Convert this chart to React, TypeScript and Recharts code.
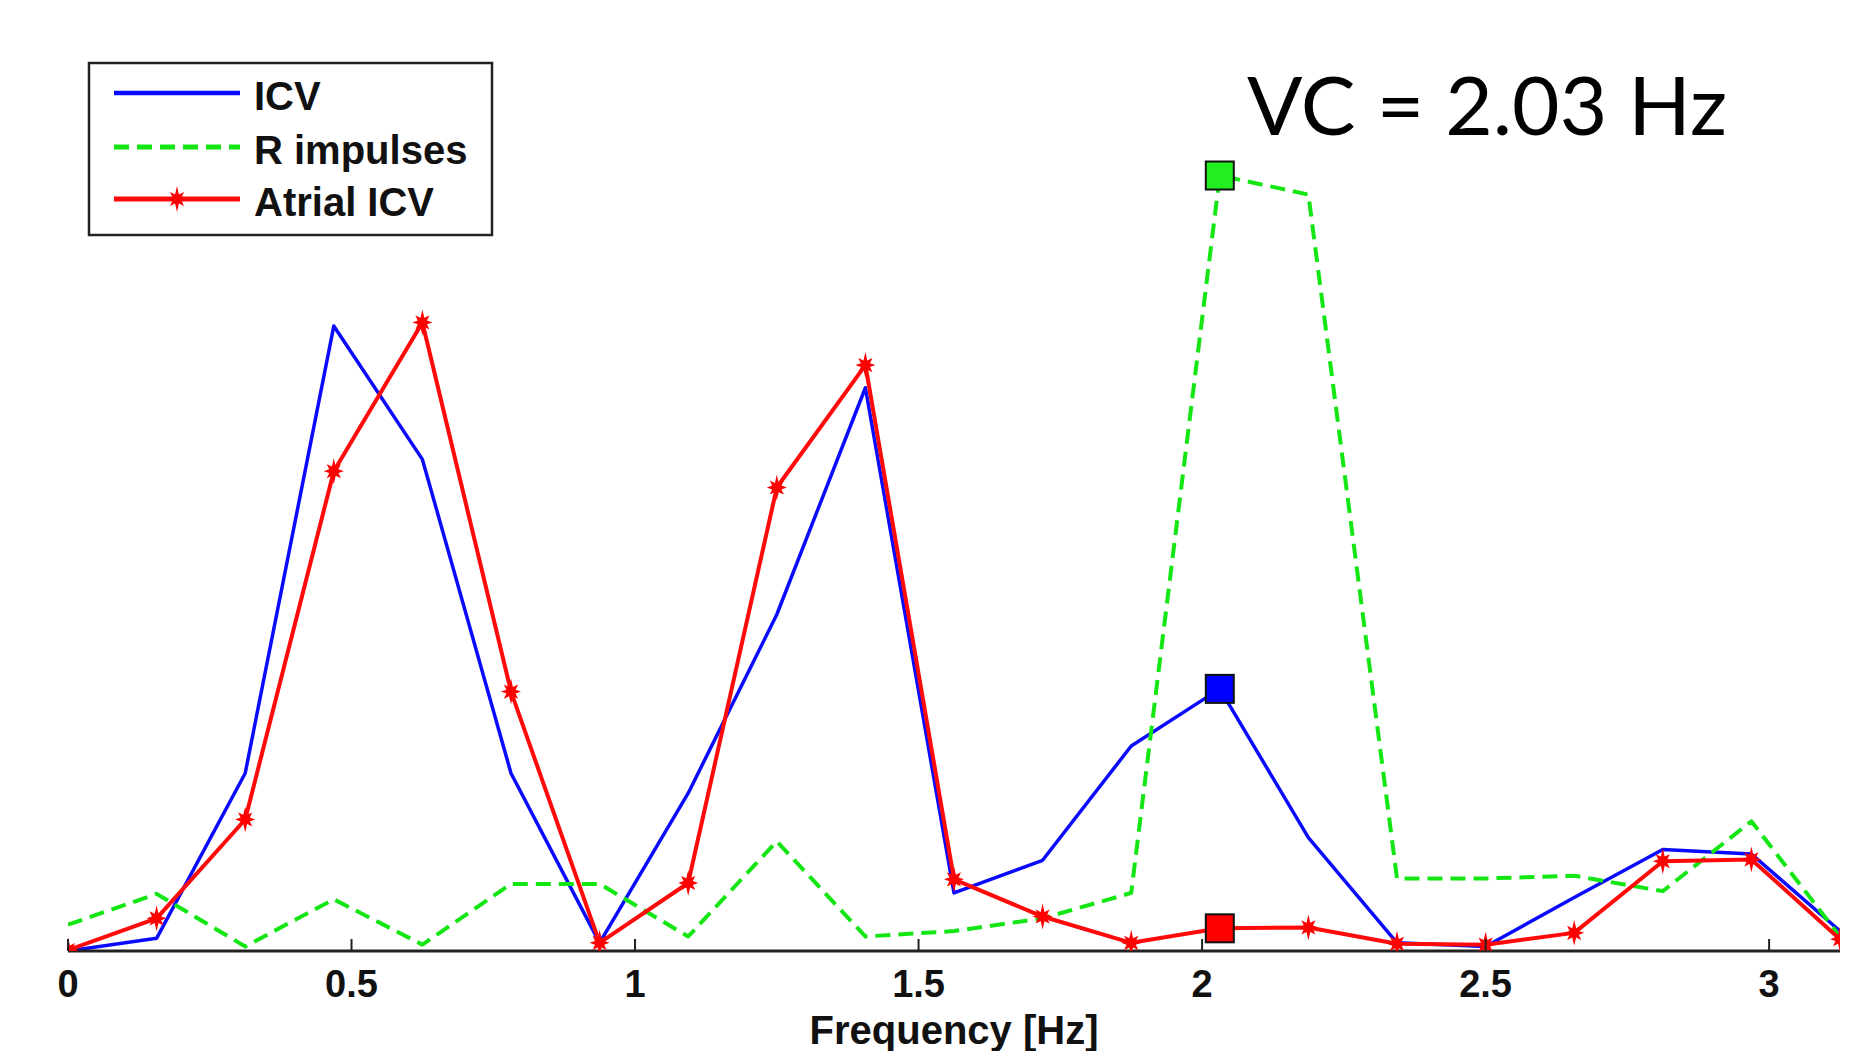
import { LineChart, Line, XAxis, YAxis } from "recharts";

// frequency bins (Hz)
const FREQ_HZ = [
  0, 0.15625, 0.3125, 0.46875, 0.625, 0.78125, 0.9375, 1.09375, 1.25, 1.40625, 1.5625,
  1.71875, 1.875, 2.03125, 2.1875, 2.34375, 2.5, 2.65625, 2.8125, 2.96875, 3.125,
];

// spectra (% of axis height)
const ICV = [
  0, 1.4, 19.6, 68.9, 54.2, 19.6, 0.9, 17.4, 37.1, 62.1, 6.4, 10.0, 22.6, 28.9, 12.5, 0.9, 0.5,
  5.9, 11.2, 10.7, 2.2,
];
const R_IMPULSES = [
  2.9, 6.3, 0.5, 5.7, 0.7, 7.4, 7.4, 1.6, 12.1, 1.6, 2.2, 3.6, 6.4, 85.5, 83.4, 8.0, 8.0, 8.3,
  6.6, 14.3, 1.6,
];
const ATRIAL_ICV = [
  0.1, 3.6, 14.5, 52.9, 69.3, 28.6, 0.9, 7.5, 51.1, 64.6, 7.9, 3.8, 0.9, 2.5, 2.6, 0.8, 0.7,
  2.0, 9.9, 10.1, 1.3,
];

const X_TICKS = [0, 0.5, 1, 1.5, 2, 2.5, 3];

const SERIES = [
  { key: "icv", name: "ICV", color: "#0a0aff", width: 3.5, dash: undefined as string | undefined, star: false, fill: "#0000ff" },
  { key: "r", name: "R impulses", color: "#14e614", width: 4, dash: "15 8", star: false, fill: "#22ee22" },
  { key: "atrial", name: "Atrial ICV", color: "#ff0a0a", width: 4, dash: undefined as string | undefined, star: true, fill: "#ff0000" },
];

const VC_INDEX = R_IMPULSES.indexOf(Math.max(...R_IMPULSES));
const VC_LABEL = `VC = ${FREQ_HZ[VC_INDEX].toFixed(2)} Hz`;

const data = FREQ_HZ.map((f, i) => ({ f, icv: ICV[i], r: R_IMPULSES[i], atrial: ATRIAL_ICV[i] }));

const FONT = "'Liberation Sans', Arial, sans-serif";

function starPoints(cx: number, cy: number) {
  const pts: string[] = [];
  for (let k = 0; k < 16; k++) {
    const a = (k * Math.PI) / 8 - Math.PI / 2;
    const r = k % 2 === 0 ? (k % 8 === 0 ? 13 : 10) : 5;
    pts.push(`${cx + r * Math.cos(a)},${cy + r * Math.sin(a)}`);
  }
  return pts.join(" ");
}

const makeDot = (fill: string, star: boolean) => (p: any) => {
  const { cx, cy, index } = p;
  if (index === VC_INDEX) {
    return (
      <rect key={`sq-${index}`} x={cx - 14} y={cy - 14} width={28} height={28} fill={fill} stroke="#111" strokeWidth={2} />
    );
  }
  if (star) return <polygon key={`st-${index}`} points={starPoints(cx, cy)} fill="#ff0000" />;
  return <g key={`n-${index}`} />;
};

const XTick = ({ x, y, payload }: any) => (
  <g>
    <line x1={x} x2={x} y1={y} y2={y - 12} stroke="#222" strokeWidth={2} />
    <text x={x} y={y + 46} textAnchor="middle" fontFamily={FONT} fontWeight="bold" fontSize={38} fill="#111">
      {payload.value}
    </text>
  </g>
);

export default function App() {
  return (
    <div style={{ position: "absolute", left: 0, top: 0, width: 1872, height: 1051, background: "#fff" }}>
      <LineChart width={1872} height={1051} data={data} margin={{ top: 44, right: 32, left: 68, bottom: 0 }}>
        <XAxis
          dataKey="f"
          type="number"
          domain={[0, 3.125]}
          ticks={X_TICKS}
          allowDataOverflow
          height={100}
          tickSize={0}
          tickMargin={0}
          tick={<XTick />}
          axisLine={{ stroke: "#222", strokeWidth: 3 }}
          label={{ value: "Frequency [Hz]", position: "insideBottom", offset: 7, fontFamily: FONT, fontWeight: "bold", fontSize: 40, fill: "#111" }}
        />
        <YAxis type="number" domain={[0, 100]} width={0} tick={false} tickLine={false} axisLine={{ stroke: "#222", strokeWidth: 2 }} allowDataOverflow />
        {SERIES.map((s) => (
          <Line
            key={s.key}
            dataKey={s.key}
            type="linear"
            stroke={s.color}
            strokeWidth={s.width}
            strokeDasharray={s.dash}
            strokeLinejoin="round"
            dot={makeDot(s.fill, s.star)}
            activeDot={false}
            isAnimationActive={false}
          />
        ))}
      </LineChart>

      <svg width={1872} height={1051} style={{ position: "absolute", left: 0, top: 0, pointerEvents: "none" }}>
        {/* legend */}
        <g transform="translate(89,63)">
          <rect x={0} y={0} width={403} height={172} fill="#fff" stroke="#222" strokeWidth={2.5} />
          {SERIES.map((s, i) => {
            const ly = [30, 84, 136][i];
            return (
              <g key={s.key}>
                <line x1={25} x2={151} y1={ly} y2={ly} stroke={s.color} strokeWidth={s.width + 1} strokeDasharray={s.dash} />
                {s.star && <polygon points={starPoints(88, ly)} fill="#ff0000" />}
                <text x={165} y={ly + 17} fontFamily={FONT} fontWeight="bold" fontSize={40} fill="#111">
                  {s.name}
                </text>
              </g>
            );
          })}
        </g>
        <text x={1247} y={135} fontFamily="Lato, 'Open Sans', sans-serif" fontSize={82} fill="#000">
          {VC_LABEL}
        </text>
      </svg>
    </div>
  );
}
